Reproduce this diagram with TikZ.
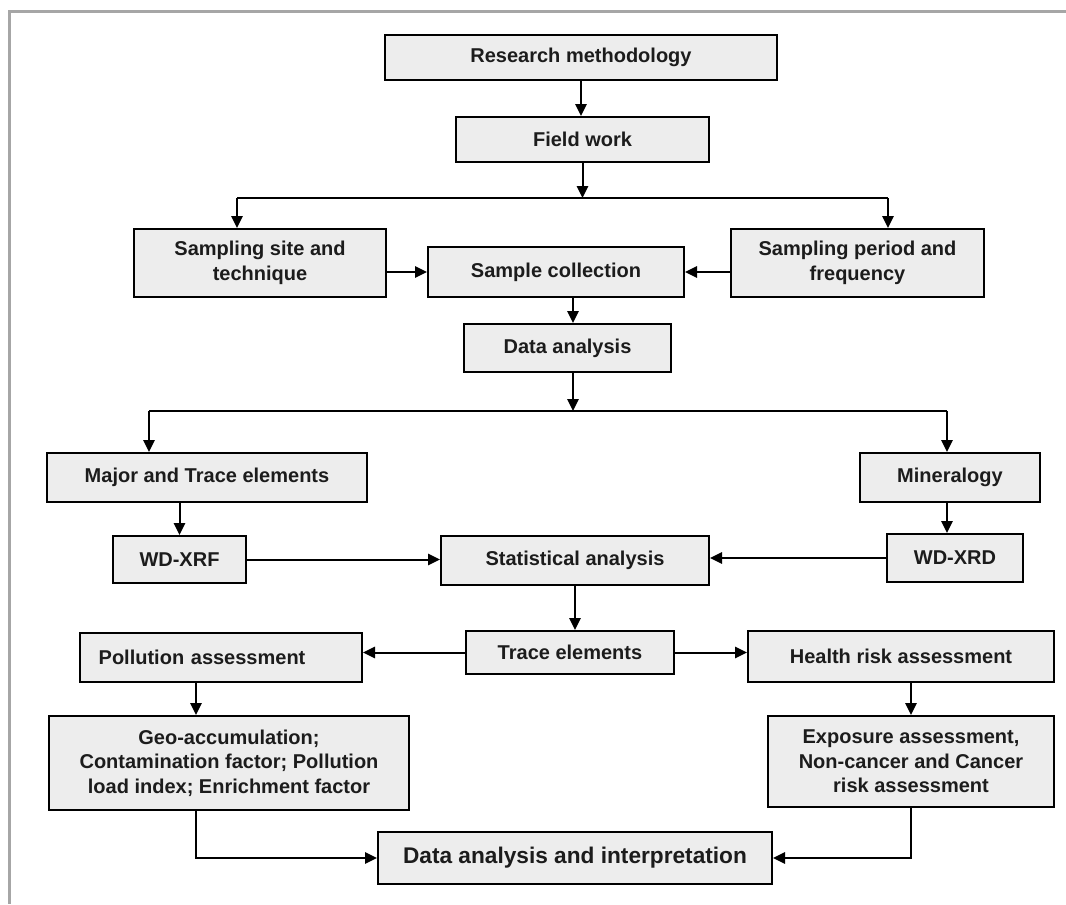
\documentclass[tikz,border=0pt]{standalone}
\usepackage{fontspec}
\setmainfont{Liberation Sans}
\usetikzlibrary{arrows.meta}
\definecolor{boxfill}{RGB}{237,237,237}
\definecolor{framegray}{RGB}{166,166,166}
\definecolor{inkgray}{RGB}{28,28,28}
\tikzset{every picture/.style={line width=1.5pt}}
\tikzset{
  box/.style={draw=black, fill=boxfill, rectangle, inner sep=2pt, align=center,
    text=inkgray, font=\fontsize{15}{18.5}\selectfont\bfseries},
  arr/.style={-{Triangle[length=9pt,width=8.5pt]}, line width=1.5pt},
}

\begin{document}
\begin{tikzpicture}[x=0.75pt,y=0.75pt,yscale=-1,xscale=1]
\useasboundingbox (0,0) rectangle (1066,904);

%Frame
\draw [color=framegray, line width=2.25pt] (1066,11) -| (9,904);

%Shape: Rectangle [top]
\node [box, minimum width=294pt, minimum height=33.75pt] (resmeth) at (581,57.5) {Research methodology};
\node [box, minimum width=189.75pt, minimum height=33.75pt] (field) at (582.5,139.5) {Field work};
\node [box, minimum width=189pt, minimum height=51pt] (site) at (260,263) {Sampling site and\\technique};
\node [box, minimum width=192pt, minimum height=37.5pt] (collect) at (556,272) {Sample collection};
\node [box, minimum width=189.75pt, minimum height=51pt] (period) at (857.5,263) {Sampling period and\\frequency};
\node [box, minimum width=155.25pt, minimum height=36pt] (danal) at (567.5,348) {Data analysis};

%Shape: Rectangle [middle]
\node [box, minimum width=240pt, minimum height=36.75pt] (major) at (207,477.5) {Major and Trace elements};
\node [box, minimum width=135pt, minimum height=36.75pt] (mineral) at (950,477.5) {Mineralogy};
\node [box, minimum width=99.75pt, minimum height=35.25pt] (xrf) at (179.5,559.5) {WD-XRF};
\node [box, minimum width=201pt, minimum height=36.75pt] (stat) at (575,560.5) {Statistical analysis};
\node [box, minimum width=102pt, minimum height=36pt] (xrd) at (955,558) {WD-XRD};

%Shape: Rectangle [bottom]
\node [box, minimum width=156pt, minimum height=32.25pt] (trace) at (570,652.5) {Trace elements};
\node [box, minimum height=36.75pt, inner xsep=14pt, text width=183.5pt, align=left] (pollut) at (221,657.5) {Pollution assessment};
\node [box, minimum width=229.5pt, minimum height=38.25pt] (health) at (901,656.5) {Health risk assessment};
\node [box, minimum width=270pt, minimum height=70.5pt] (geo) at (229,763) {Geo-accumulation;\\Contamination factor; Pollution\\load index; Enrichment factor};
\node [box, minimum width=214.5pt, minimum height=68.25pt] (expo) at (911,761.5) {Exposure assessment,\\Non-cancer and Cancer\\risk assessment};
\node [box, minimum width=295.5pt, minimum height=39pt, font=\fontsize{17}{20}\selectfont\bfseries] (final) at (575,858) {Data analysis and interpretation};

%Branch points
\coordinate (fl) at (237,198);
\coordinate (fr) at (888,198);
\coordinate (dl) at (149,411);
\coordinate (dr) at (947,411);
\coordinate (dm) at (573,411);
\coordinate (pd) at (196,0);

%Straight Lines
\draw [arr] (resmeth.south) -- (resmeth.south |- field.north);
\draw [arr] (field.south) -- (field.south |- fl);
\draw (fl) -- (fr);
\draw [arr] (fl) -- (fl |- site.north);
\draw [arr] (fr) -- (fr |- period.north);
\draw [arr] (site.east |- collect.west) -- (collect.west);
\draw [arr] (period.west |- collect.east) -- (collect.east);
\draw [arr] (dm |- collect.south) -- (dm |- danal.north);
\draw [arr] (dm |- danal.south) -- (dm);
\draw (dl) -- (dr);
\draw [arr] (dl) -- (dl |- major.north);
\draw [arr] (dr) -- (dr |- mineral.north);
\draw [arr] (xrf.north |- major.south) -- (xrf.north);
\draw [arr] (dr |- mineral.south) -- (dr |- xrd.north);
\draw [arr] (xrf.east) -- (xrf.east -| stat.west);
\draw [arr] (xrd.west) -- (xrd.west -| stat.east);
\draw [arr] (stat.south) -- (stat.south |- trace.north);
\draw [arr] (trace.west) -- (trace.west -| pollut.east);
\draw [arr] (trace.east) -- (trace.east -| health.west);
\draw [arr] (pd |- pollut.south) -- (pd |- geo.north);
\draw [arr] (expo.north |- health.south) -- (expo.north);
\draw [arr] (pd |- geo.south) |- (final.west);
\draw [arr] (expo.south) |- (final.east);

\end{tikzpicture}
\end{document}
